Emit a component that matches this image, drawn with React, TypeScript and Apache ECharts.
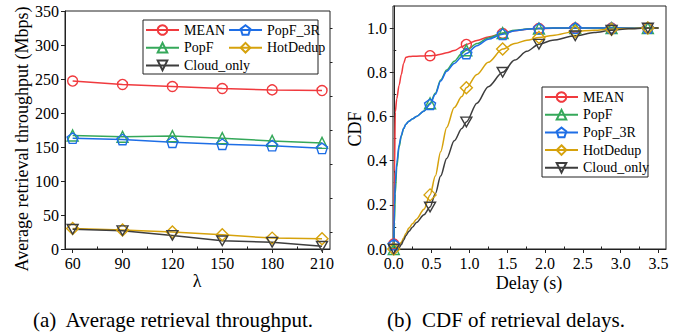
import React, { useEffect, useRef } from "react";
import * as echarts from "echarts";

const FONT = "Liberation Serif";

// ---- (a) Average retrieval throughput ----
const LAMBDA = [60, 90, 120, 150, 180, 210];
const LAMBDA_MINOR = [75, 105, 135, 165, 195];
const TP_TICKS = [0, 50, 100, 150, 200, 250, 300, 350];
const TP_MINOR = [25, 75, 125, 175, 225, 275, 325];
const TP_MEAN = [247, 242, 239, 236, 234, 233];
const TP_POPF = [167, 165, 166, 163, 159, 156];
const TP_POPF3R = [163, 161, 157, 154, 152, 148];
const TP_HOTDEDUP = [30, 28, 25, 21, 16, 15];
const TP_CLOUD = [29, 27, 20, 12, 10, 4];

// ---- (b) CDF of retrieval delays ----
const DELAY_TICKS = [0, 0.5, 1, 1.5, 2, 2.5, 3, 3.5];
const DELAY_MINOR = [0.25, 0.75, 1.25, 1.75, 2.25, 2.75, 3.25];
const CDF_TICKS = [0, 0.2, 0.4, 0.6, 0.8, 1.0];
const CDF_MINOR = [0.1, 0.3, 0.5, 0.7, 0.9];
const MARK_X = [0, 0.48, 0.96, 1.44, 1.92, 2.4, 2.88, 3.36];
const DELAY_X = [0, 0.01, 0.02, 0.04, 0.07, 0.1, 0.13, 0.16, 0.2, 0.25, 0.3, 0.4, 0.48, 0.55, 0.62, 0.7, 0.8, 0.9, 0.96, 1.1, 1.25, 1.44, 1.6, 1.76, 1.92, 2.1, 2.4, 2.65, 2.88, 3.1, 3.36, 3.5];
const CDF_MEAN = [0.023, 0.35, 0.62, 0.68, 0.74, 0.79, 0.84, 0.868, 0.871, 0.872, 0.873, 0.874, 0.875, 0.877, 0.882, 0.888, 0.898, 0.915, 0.926, 0.944, 0.96, 0.976, 0.988, 0.995, 0.998, 0.999, 1, 1, 1, 1, 1, 1];
const CDF_POPF = [0, 0.12, 0.25, 0.37, 0.46, 0.51, 0.545, 0.565, 0.578, 0.59, 0.6, 0.625, 0.66, 0.705, 0.765, 0.81, 0.85, 0.885, 0.9, 0.93, 0.955, 0.978, 0.99, 0.996, 0.998, 1, 1, 1, 1, 1, 1, 1];
const CDF_POPF3R = [0.02, 0.2, 0.3, 0.39, 0.47, 0.515, 0.545, 0.565, 0.578, 0.59, 0.6, 0.625, 0.655, 0.7, 0.76, 0.805, 0.84, 0.87, 0.885, 0.92, 0.95, 0.972, 0.988, 0.995, 0.998, 1, 1, 1, 1, 1, 1, 1];
const CDF_HOTDEDUP = [0, 0, 0, 0.005, 0.015, 0.03, 0.05, 0.07, 0.095, 0.115, 0.135, 0.18, 0.245, 0.33, 0.44, 0.55, 0.64, 0.69, 0.73, 0.79, 0.845, 0.905, 0.93, 0.945, 0.957, 0.967, 0.985, 0.99, 0.995, 0.998, 1, 1];
const CDF_CLOUD = [0, 0, 0, 0, 0.005, 0.02, 0.04, 0.06, 0.08, 0.1, 0.12, 0.155, 0.19, 0.25, 0.33, 0.41, 0.49, 0.545, 0.575, 0.66, 0.735, 0.8, 0.855, 0.895, 0.927, 0.945, 0.965, 0.98, 0.99, 0.997, 1, 1];

const PENTAGON = "path://M0,-1 L0.951,-0.309 L0.588,0.809 L-0.588,0.809 L-0.951,-0.309 Z";
const DOWN_TRI = "path://M-1,-0.85 L1,-0.85 L0,0.9 Z";

const STYLES = [
  { name: "MEAN", color: "#f03a3e", symbol: "circle", size: 10 },
  { name: "PopF", color: "#35a85a", symbol: "triangle", size: 11 },
  { name: "PopF_3R", color: "#1e6ee6", symbol: PENTAGON, size: 11 },
  { name: "HotDedup", color: "#d6a20c", symbol: "diamond", size: 12 },
  { name: "Cloud_only", color: "#3d3d3d", symbol: DOWN_TRI, size: 11 },
];

const TP_VALUES = [TP_MEAN, TP_POPF, TP_POPF3R, TP_HOTDEDUP, TP_CLOUD];
const CDF_VALUES = [CDF_MEAN, CDF_POPF, CDF_POPF3R, CDF_HOTDEDUP, CDF_CLOUD];

function axisBase(gridIndex: number, min: number, max: number) {
  return { gridIndex, type: "value" as const, min, max, splitLine: { show: false } };
}

function majorAxis(gridIndex: number, min: number, max: number, ticks: number[], fmt?: (v: number) => string) {
  const label: any = {
    show: true,
    customValues: ticks,
    color: "#000",
    fontSize: 16,
    fontFamily: FONT,
    margin: 6,
  };
  if (fmt) label.formatter = fmt;
  return {
    ...axisBase(gridIndex, min, max),
    axisLine: { show: true, lineStyle: { color: "#222", width: 1 } },
    axisTick: { show: true, inside: false, length: 4, customValues: ticks, lineStyle: { color: "#222" } },
    axisLabel: label,
  };
}

function minorAxis(gridIndex: number, min: number, max: number, ticks: number[]) {
  return {
    ...axisBase(gridIndex, min, max),
    axisLine: { show: false },
    axisTick: { show: true, inside: false, length: 2.5, customValues: ticks, lineStyle: { color: "#222" } },
    axisLabel: { show: false },
  };
}

function seriesStyle(s: (typeof STYLES)[number]) {
  return {
    type: "line" as const,
    name: s.name,
    symbol: s.symbol,
    symbolSize: s.size,
    symbolKeepAspect: true,
    showAllSymbol: true,
    clip: false,
    lineStyle: { color: s.color, width: 1.5 },
    itemStyle: { color: "rgba(255,255,255,0)", borderColor: s.color, borderWidth: 1.4 },
    emphasis: { disabled: true },
  };
}

const legendText = { fontSize: 14, fontFamily: FONT, color: "#000", lineHeight: 16 };
function legend(data: string[], left: number, top: number) {
  return {
    data,
    orient: "vertical" as const,
    left,
    top,
    padding: 0,
    itemGap: 1.7,
    itemWidth: 33,
    itemHeight: 12,
    itemTextGap: 3,
    selectedMode: false,
    textStyle: legendText,
  };
}

function buildOption() {
  const series: any[] = [];
  STYLES.forEach((s, k) => {
    series.push({
      ...seriesStyle(s),
      xAxisIndex: 0,
      yAxisIndex: 0,
      data: LAMBDA.map((x, i) => [x, TP_VALUES[k][i]]),
    });
  });
  STYLES.forEach((s, k) => {
    series.push({
      ...seriesStyle(s),
      xAxisIndex: 2,
      yAxisIndex: 2,
      smooth: 0.3,
      smoothMonotone: "x",
      data: DELAY_X.map((x, i) =>
        MARK_X.includes(x)
          ? { value: [x, CDF_VALUES[k][i]] }
          : { value: [x, CDF_VALUES[k][i]], symbol: "none" }
      ),
    });
  });

  const fmt1 = (v: number) => Number(v).toFixed(1);

  return {
    animation: false,
    backgroundColor: "#fff",
    textStyle: { fontFamily: FONT, color: "#000" },
    grid: [
      { left: 65, top: 11, width: 265, height: 238, show: true, borderColor: "#222", borderWidth: 1, backgroundColor: "transparent" },
      { left: 393, top: 6, width: 273, height: 243, show: true, borderColor: "#222", borderWidth: 1, backgroundColor: "transparent" },
    ],
    xAxis: [
      majorAxis(0, 55.4, 214.8, LAMBDA),
      minorAxis(0, 55.4, 214.8, LAMBDA_MINOR),
      majorAxis(1, -0.01, 3.6, DELAY_TICKS, fmt1),
      minorAxis(1, -0.01, 3.6, DELAY_MINOR),
    ],
    yAxis: [
      majorAxis(0, 0, 350, TP_TICKS),
      minorAxis(0, 0, 350, TP_MINOR),
      majorAxis(1, 0, 1.1, CDF_TICKS, fmt1),
      minorAxis(1, 0, 1.1, CDF_MINOR),
    ],
    legend: [
      legend(["MEAN", "PopF", "Cloud_only"], 145, 22),
      legend(["PopF_3R", "HotDedup"], 228, 22),
      legend(["MEAN", "PopF", "PopF_3R", "HotDedup", "Cloud_only"], 544, 89),
    ],
    graphic: [
      { type: "rect", z: 3, shape: { x: 143, y: 20, width: 175, height: 54 }, style: { fill: "#fff", stroke: "#222", lineWidth: 1 } },
      { type: "rect", z: 3, shape: { x: 542, y: 87, width: 106, height: 90 }, style: { fill: "#fff", stroke: "#222", lineWidth: 1 } },
      { type: "text", x: 22, y: 139, rotation: Math.PI / 2, style: { text: "Average retrieval throughput (Mbps)", fontSize: 18, fontFamily: FONT, fill: "#000", align: "center", verticalAlign: "middle" } },
      { type: "text", x: 197, y: 281, style: { text: "λ", fontSize: 18, fontFamily: FONT, fill: "#000", align: "center", verticalAlign: "middle" } },
      { type: "text", x: 355, y: 129, rotation: Math.PI / 2, style: { text: "CDF", fontSize: 18, fontFamily: FONT, fill: "#000", align: "center", verticalAlign: "middle" } },
      { type: "text", x: 529, y: 283, style: { text: "Delay (s)", fontSize: 18, fontFamily: FONT, fill: "#000", align: "center", verticalAlign: "middle" } },
      { type: "text", x: 173, y: 320, style: { text: "(a)  Average retrieval throughput.", fontSize: 21, fontFamily: FONT, fill: "#000", align: "center", verticalAlign: "middle" } },
      { type: "text", x: 506, y: 320, style: { text: "(b)  CDF of retrieval delays.", fontSize: 21, fontFamily: FONT, fill: "#000", align: "center", verticalAlign: "middle" } },
    ],
    series,
  };
}

export default function App() {
  const ref = useRef<HTMLDivElement>(null);
  useEffect(() => {
    const chart = echarts.init(ref.current!, null, { renderer: "svg", width: 681, height: 336 });
    chart.setOption(buildOption() as any);
    return () => chart.dispose();
  }, []);
  return (
    <div
      ref={ref}
      style={{ position: "fixed", left: 0, top: 0, width: 681, height: 336, background: "#fff" }}
    />
  );
}
